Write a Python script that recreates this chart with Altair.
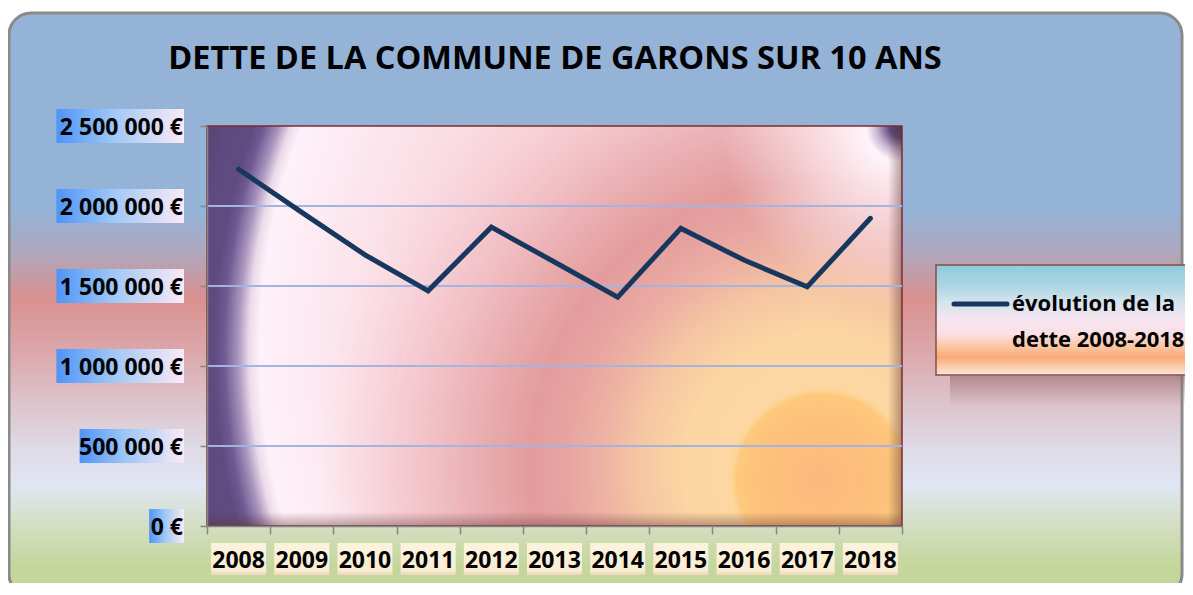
import altair as alt
import pandas as pd

# ---- data ----
years = ["2008", "2009", "2010", "2011", "2012", "2013", "2014", "2015", "2016", "2017", "2018"]
debt = [2230000, 1960000, 1695000, 1470000, 1868000, 1650000, 1430000, 1860000, 1662000, 1495000, 1923000]
y_ticks = [0, 500000, 1000000, 1500000, 2000000, 2500000]
y_tick_labels = ["0 €", "500 000 €", "1 000 000 €", "1 500 000 €", "2 000 000 €", "2 500 000 €"]
grid_values = [500000, 1000000, 1500000, 2000000]
title_text = "DETTE DE LA COMMUNE DE GARONS SUR 10 ANS"
legend_lines = ["évolution de la", "dette 2008-2018"]

W, H = 695, 400
FONT = "Open Sans"
LINE_COLOR = "#17375e"
AXIS_GRAY = "#868686"

df = pd.DataFrame({"year": years, "debt": debt})
df_y = pd.DataFrame({"v": y_ticks, "label": y_tick_labels})
df_g = pd.DataFrame({"g": grid_values})
one = pd.DataFrame({"k": [0]})

xscale = alt.Scale(type="band", paddingInner=0, paddingOuter=0)
xaxis = alt.Axis(labels=False, title=None, grid=False, tickBand="extent", tickSize=8,
                 tickColor=AXIS_GRAY, domainColor=AXIS_GRAY, tickWidth=1.5, domainWidth=1.5, zindex=1)
yscale = alt.Scale(domain=[0, 2500000], nice=False, zero=True)
yaxis = alt.Axis(values=y_ticks, labels=False, title=None, grid=False, tickSize=7,
                 tickColor=AXIS_GRAY, domainColor=AXIS_GRAY, tickWidth=1.5, domainWidth=1.5, zindex=1)


def stops(pairs):
    return [alt.GradientStop(offset=o, color=c) for o, c in pairs]


def radial(cx, cy, r, pairs):
    return alt.RadialGradient(gradient="radial", x1=cx, y1=cy, r1=0, x2=cx, y2=cy, r2=r, stops=stops(pairs))


def plot_rect(fill):
    return alt.Chart(one).mark_rect(fill=fill).encode(
        x=alt.value(0), x2=alt.value(W), y=alt.value(0), y2=alt.value(H))


# ---- outer chart-area background ----
outer_grad = alt.LinearGradient(gradient="linear", x1=0, x2=0, y1=0, y2=1, stops=stops([
    (0, "#95b3d7"), (0.34, "#95b3d7"), (0.41, "#aea7bd"), (0.49, "#d9918f"), (0.58, "#dba7ab"),
    (0.665, "#ddc3ca"), (0.75, "#dedbe7"), (0.81, "#e0e6f3"), (0.89, "#d1ddbb"), (0.95, "#c4d69c"),
    (1, "#c3d69b")]))
outer = alt.Chart(one).mark_rect(fill=outer_grad, stroke="#8a8a8a", strokeWidth=3, cornerRadius=22).encode(
    x=alt.value(-198), x2=alt.value(975), y=alt.value(-113), y2=alt.value(470))

# ---- legend box ----
leg_shadow_grad = alt.LinearGradient(gradient="linear", x1=0, x2=0, y1=0, y2=1, stops=stops([
    (0, "rgba(140,100,105,0.55)"), (1, "rgba(160,120,125,0)")]))
leg_shadow = alt.Chart(one).mark_rect(fill=leg_shadow_grad).encode(
    x=alt.value(743), x2=alt.value(1000), y=alt.value(250), y2=alt.value(282))
leg_grad = alt.LinearGradient(gradient="linear", x1=0, x2=0, y1=0, y2=1, stops=stops([
    (0, "#8ecbdb"), (0.2, "#aed7e4"), (0.33, "#d2e3ec"), (0.5, "#f6e5f0"), (0.63, "#fbdfe4"),
    (0.74, "#fbc7a2"), (0.84, "#f9a977"), (0.92, "#fbcaa8"), (1, "#fde6d8")]))
leg_box = alt.Chart(one).mark_rect(fill=leg_grad, stroke="#7d5049", strokeWidth=1.5).encode(
    x=alt.value(729), x2=alt.value(1000), y=alt.value(139), y2=alt.value(249))

# ---- plot-area background (layered radial gradients) ----
grad_a = radial(0.9496, 0.5345, 1.0, [
    (0, "#f8d2d8"), (0.6, "#f9d6dc"), (0.75, "#fce4ec"), (0.874, "#fef1f9"), (0.889, "#ebdbea"),
    (0.905, "#a995bd"), (0.925, "#6e5a92"), (0.94, "#5f4b7f"), (0.97, "#5e4a7e"), (1, "#584573")])
grad_b = radial(0.8806, 0.7043, 1.0, [
    (0, "#fdd9a3"), (0.19, "#fcd6a2"), (0.26, "#f6c6a3"), (0.31, "#eeb3a3"), (0.36, "#e7a5a1"),
    (0.415, "#e39c9c"), (0.47, "#e8a9ab"), (0.55, "#f0bec3"), (0.62, "rgba(246,205,212,0.9)"),
    (0.72, "rgba(249,218,224,0)"), (1, "rgba(249,218,224,0)")])
grad_disk = radial(0.885, 0.7216, 0.137, [
    (0, "#fcb87c"), (0.7, "#fdc27b"), (0.9, "#fec97d"), (0.96, "rgba(254,212,150,0.5)"),
    (1, "rgba(254,212,150,0)")])
grad_corner = radial(1.0, 0.2122, 0.26, [
    (0, "#4a3a66"), (0.07, "#5e4a7e"), (0.14, "#c8b4d0"), (0.2, "#fff4fa"),
    (0.55, "rgba(255,240,246,0.6)"), (1, "rgba(255,240,246,0)")])
rshadow_grad = alt.LinearGradient(gradient="linear", x1=0, x2=1, y1=0, y2=0, stops=stops([
    (0, "rgba(90,50,50,0)"), (1, "rgba(90,50,50,0.45)")]))
rshadow = alt.Chart(one).mark_rect(fill=rshadow_grad).encode(
    x=alt.value(W - 14), x2=alt.value(W), y=alt.value(0), y2=alt.value(H))
bshadow_grad = alt.LinearGradient(gradient="linear", x1=0, x2=0, y1=0, y2=1, stops=stops([
    (0, "rgba(90,50,50,0)"), (1, "rgba(90,50,50,0.4)")]))
bshadow = alt.Chart(one).mark_rect(fill=bshadow_grad).encode(
    x=alt.value(0), x2=alt.value(W), y=alt.value(H - 14), y2=alt.value(H))
border = alt.Chart(one).mark_rect(fillOpacity=0, stroke="#7b2c30", strokeWidth=1.5).encode(
    x=alt.value(0), x2=alt.value(W), y=alt.value(0), y2=alt.value(H))

# ---- gridlines ----
grid = alt.Chart(df_g).mark_rule(color="#a3b3e2", strokeWidth=2).encode(
    y=alt.Y("g:Q", scale=yscale, axis=yaxis))

# ---- y labels with boxes ----
ybox_grad = alt.LinearGradient(gradient="linear", x1=0, x2=1, y1=0, y2=0, stops=stops([
    (0, "#4f94fa"), (0.45, "#9fc8f5"), (1, "#fbe9f6")]))
ybox = alt.Chart(df_y).transform_calculate(
    lo="datum.v - 106250", hi="datum.v + 106250", bx="-23 - 11.6 * length(datum.label)"
).mark_rect(fill=ybox_grad).encode(
    x=alt.X("bx:Q", scale=None), x2=alt.value(-23),
    y=alt.Y("lo:Q", scale=yscale, axis=yaxis), y2="hi:Q")
ytext = alt.Chart(df_y).mark_text(align="right", baseline="alphabetic", dy=8.5, font=FONT,
                                  fontSize=23, fontWeight="bold", color="#000000").encode(
    x=alt.value(-24), y=alt.Y("v:Q", scale=yscale, axis=yaxis), text="label:N")

# ---- x labels with boxes ----
xbox_grad = alt.LinearGradient(gradient="linear", x1=0, x2=0, y1=0, y2=1, stops=stops([
    (0, "#fdf3dd"), (0.85, "#faecd2"), (1, "#e9d9bb")]))
xbox = alt.Chart(df).mark_bar(size=55, fill=xbox_grad).encode(
    x=alt.X("year:N", scale=xscale, axis=xaxis, sort=None), y=alt.value(417), y2=alt.value(449))
xtext = alt.Chart(df).mark_text(align="center", baseline="alphabetic", font=FONT, fontSize=23,
                                fontWeight="bold", color="#000000").encode(
    x=alt.X("year:N", scale=xscale, axis=xaxis, sort=None, bandPosition=0.5),
    y=alt.value(442), text="year:N")

# ---- the series ----
line = alt.Chart(df).mark_line(color=LINE_COLOR, strokeWidth=5, strokeCap="round").encode(
    x=alt.X("year:N", scale=xscale, axis=xaxis, sort=None, bandPosition=0.5),
    y=alt.Y("debt:Q", scale=yscale, axis=yaxis))

# ---- legend content ----
leg_sym = alt.Chart(one).mark_rule(color=LINE_COLOR, strokeWidth=5, strokeCap="round").encode(
    x=alt.value(747), x2=alt.value(800), y=alt.value(178))
leg_texts = [
    alt.Chart(one).mark_text(align="left", baseline="middle", font=FONT, fontSize=22,
                             fontWeight="bold", color="#000000").encode(
        x=alt.value(805), y=alt.value(178 + 36 * i), text=alt.value(t))
    for i, t in enumerate(legend_lines)
]

# ---- title ----
title = alt.Chart(one).mark_text(align="center", baseline="alphabetic", font=FONT, fontSize=32.5,
                                 fontWeight="bold", color="#000000").encode(
    x=alt.value(348), y=alt.value(-57), text=alt.value(title_text))

chart = alt.layer(
    outer, leg_shadow, leg_box,
    plot_rect(grad_a), plot_rect(grad_b), plot_rect(grad_disk), plot_rect(grad_corner),
    rshadow, bshadow, border, grid,
    ybox, ytext, xbox, xtext, line, leg_sym, *leg_texts, title
).properties(
    width=W, height=H,
    padding={"left": 199, "top": 118, "right": 283, "bottom": 57},
    autosize=alt.AutoSizeParams(type="none"),
    background="#ffffff",
).configure_view(strokeWidth=0)

chart.save("out.html", embed_options={"renderer": "svg", "actions": False})
